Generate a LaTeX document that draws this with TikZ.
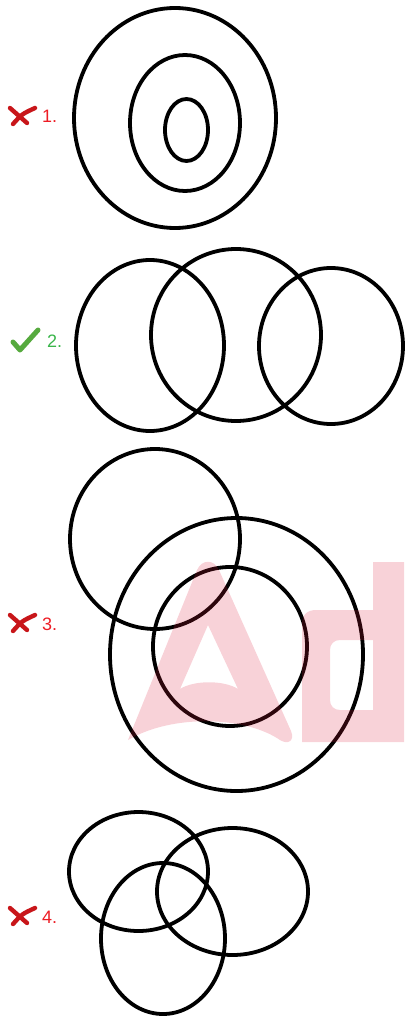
\documentclass[tikz,border=0pt]{standalone}
\usepackage{fontspec}
\setmainfont{Liberation Sans}
\usetikzlibrary{positioning}

\definecolor{wrongred}{RGB}{237,28,36}
\definecolor{rightgreen}{RGB}{57,181,74}
\definecolor{crossred}{RGB}{200,22,26}
\definecolor{tickgreen}{RGB}{86,170,62}
\definecolor{markpink}{RGB}{220,30,60}

\begin{document}
\begin{tikzpicture}[
    x=1pt, y=-1pt,
    ring/.style={draw=black, line width=3.8pt},
    num/.style={anchor=base west, inner sep=0pt, font=\fontsize{18}{21}\selectfont},
    wrong/.style={num, text=wrongred},
    right/.style={num, text=rightgreen},
    crossmark/.style={draw=crossred, line width=4.4pt, line cap=round},
    tickmark/.style={draw=tickgreen, line width=5pt, line cap=round, line join=round},
    wmark/.style={fill=markpink, fill opacity=0.2, even odd rule},
]
\useasboundingbox (0,0) rectangle (406,1019);

% ---- 1. three nested ovals ----
\draw[ring] (175,118) ellipse [x radius=101, y radius=110];
\draw[ring] (185,123) ellipse [x radius=55, y radius=68];
\draw[ring] (186.5,130) ellipse [x radius=21.5, y radius=31];

% ---- 2. three overlapping in a row ----
\draw[ring] (150,345.5) ellipse [x radius=74, y radius=85.5];
\draw[ring] (236,335) ellipse [x radius=85, y radius=86];
\draw[ring] (331,346) ellipse [x radius=72, y radius=78];

% ---- 3. one over a ring in a ring ----
\draw[ring] (155,539) ellipse [x radius=85, y radius=90];
\draw[ring] (236.5,654.5) ellipse [x radius=126.5, y radius=136.5];
\draw[ring] (230,646.5) ellipse [x radius=77, y radius=79.5];

% ---- 4. three crossing ovals ----
\draw[ring] (138.5,871.5) ellipse [x radius=69.5, y radius=59.5];
\draw[ring] (232.5,891.5) ellipse [x radius=75.5, y radius=63.5];
\draw[ring] (163,938.5) ellipse [x radius=62, y radius=75.5];

% ---- labels with marks ----
\node[wrong] (one) at (42,123) {1.};
\node[right] (two) at (47,347) {2.};
\node[wrong] (three) at (42,630) {3.};
\node[wrong] (four) at (42,923) {4.};

\foreach \lbl in {one,three,four} {
  \draw[crossmark] ([shift={(-32,-15)}]\lbl.base west) -- ([shift={(-15,0)}]\lbl.base west);
  \draw[crossmark] ([shift={(-29,1)}]\lbl.base west) .. controls ([shift={(-20,-9)}]\lbl.base west) .. ([shift={(-7,-15)}]\lbl.base west);
}
\draw[tickmark] ([shift={(-34,-5)}]two.base west) -- ([shift={(-27,3)}]two.base west) -- ([shift={(-9,-17)}]two.base west);

% ---- faint watermark ----
\fill[wmark] (128,740) -- (197,570) .. controls (202,559) and (214,559) .. (219,570)
  -- (291,731) .. controls (295,741) and (288,745) .. (280,740)
  .. controls (245,716) and (172,714) .. (128,740) -- cycle
  (208,625) -- (238,689) .. controls (224,680) and (194,680) .. (180,689) -- cycle;
\fill[wmark] (302,742) -- (302,624) .. controls (302,615) and (307,610) .. (316,610)
  -- (373,610) -- (373,562) -- (404,562) -- (404,742) -- cycle
  (330,700) .. controls (330,706) and (334,710) .. (340,710) -- (373,710) -- (373,640)
  -- (340,640) .. controls (334,640) and (330,644) .. (330,650) -- cycle;
\end{tikzpicture}
\end{document}
